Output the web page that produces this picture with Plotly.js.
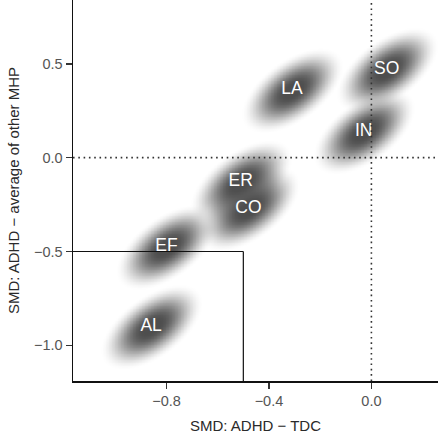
<!DOCTYPE html>
<html>
<head>
<meta charset="utf-8">
<script src="https://cdn.plot.ly/plotly-3.0.1.min.js"></script>
<style>html,body{margin:0;padding:0;background:#fff;}#chart{width:440px;height:436px;}</style>
</head>
<body>
<div id="chart"></div>
<script>
// ---- data ----
const domains = ["SO", "LA", "IN", "ER", "CO", "EF", "AL"];
const smdTDC  = [0.06, -0.31, -0.03, -0.51, -0.48, -0.80, -0.86];
const smdMHP  = [0.47, 0.36, 0.14, -0.13, -0.27, -0.475, -0.90];
const refLinesX = [0.0];
const refLinesY = [0.0];
const cutoff = [-0.5, -0.5];   // [x, y] of the cut-off box corner
const xTicks = [-0.8, -0.4, 0.0];
const yTicks = [-1.0, -0.5, 0.0, 0.5];

// ---- styling / layout constants ----
const W = 440, H = 436;
const M = {l: 73, r: 2, t: 0, b: 55};
const xRange = [-1.165, 0.26];
const yRange = [-1.19, 0.84];
const pxX = (W - M.l - M.r) / (xRange[1] - xRange[0]);
const pxY = (H - M.t - M.b) / (yRange[1] - yRange[0]);
const blobA = 60, blobB = 31, blobAngle = 36 * Math.PI / 180; // pixels, degrees
const FONT = "Liberation Sans, Arial, sans-serif";

function smoothstep(e0, e1, x) {
  const t = Math.min(1, Math.max(0, (x - e0) / (e1 - e0)));
  return t * t * (3 - 2 * t);
}

// shaded uncertainty blobs rendered as a density image around each point
const step = 1.5;
const gx = [], gy = [];
for (let p = 0; p <= W - M.l - M.r; p += step) gx.push(xRange[0] + p / pxX);
for (let p = 0; p <= H - M.t - M.b; p += step) gy.push(yRange[0] + p / pxY);
const ca = Math.cos(blobAngle), sa = Math.sin(blobAngle);
const z = gy.map(yv => gx.map(xv => {
  let keep = 1;
  for (let i = 0; i < domains.length; i++) {
    const dx = (xv - smdTDC[i]) * pxX;
    const dy = (yv - smdMHP[i]) * pxY;
    const u = dx * ca + dy * sa;
    const v = -dx * sa + dy * ca;
    const r = Math.sqrt((u / blobA) ** 2 + (v / blobB) ** 2);
    const d = 1 - smoothstep(0.15, 1.0, r);
    keep *= (1 - d);
  }
  return 1 - keep;
}));

const blobs = {
  type: "heatmap", x: gx, y: gy, z: z,
  zmin: 0, zmax: 1, zsmooth: "best", showscale: false, hoverinfo: "skip",
  colorscale: [[0, "#ffffff"], [1, "#4e4e4e"]]
};

const labels = {
  type: "scatter", mode: "text", x: smdTDC, y: smdMHP, text: domains,
  textposition: "middle center", hoverinfo: "skip",
  textfont: {family: FONT, size: 17.5, color: "#ffffff"}
};

const dotted = {color: "#333333", width: 1.6, dash: "1.6px,3.7px"};
const solid = {color: "#111111", width: 1.2};
const shapes = [];
refLinesX.forEach(v => shapes.push({type: "line", layer: "above", xref: "x", yref: "paper", x0: v, x1: v, y0: 0, y1: 1, line: dotted}));
refLinesY.forEach(v => shapes.push({type: "line", layer: "above", xref: "paper", yref: "y", x0: 0, x1: 1, y0: v, y1: v, line: dotted}));
shapes.push({type: "line", layer: "above", xref: "x", yref: "y", x0: xRange[0], x1: cutoff[0], y0: cutoff[1], y1: cutoff[1], line: solid});
shapes.push({type: "line", layer: "above", xref: "x", yref: "y", x0: cutoff[0], x1: cutoff[0], y0: cutoff[1], y1: yRange[0], line: solid});

const axisCommon = {
  showgrid: false, zeroline: false, showline: true, linecolor: "#111111", linewidth: 1.5,
  ticks: "outside", ticklen: 6, tickwidth: 1.5, tickcolor: "#333333",
  tickfont: {family: FONT, size: 14.5, color: "#555555"},
  tickformat: ".1f", tickmode: "array", mirror: false
};

const layout = {
  width: W, height: H, margin: M,
  paper_bgcolor: "#ffffff", plot_bgcolor: "#ffffff",
  showlegend: false,
  xaxis: Object.assign({}, axisCommon, {
    range: xRange, tickvals: xTicks,
    title: {text: "SMD: ADHD \u2212 TDC", font: {family: FONT, size: 15, color: "#2a2a2a"}, standoff: 12}
  }),
  yaxis: Object.assign({}, axisCommon, {
    range: yRange, tickvals: yTicks,
    title: {text: "SMD: ADHD \u2212 average of other MHP", font: {family: FONT, size: 15, color: "#2a2a2a"}, standoff: 10}
  }),
  shapes: shapes
};

Plotly.newPlot("chart", [blobs, labels], layout, {staticPlot: true, displayModeBar: false});
</script>
</body>
</html>
